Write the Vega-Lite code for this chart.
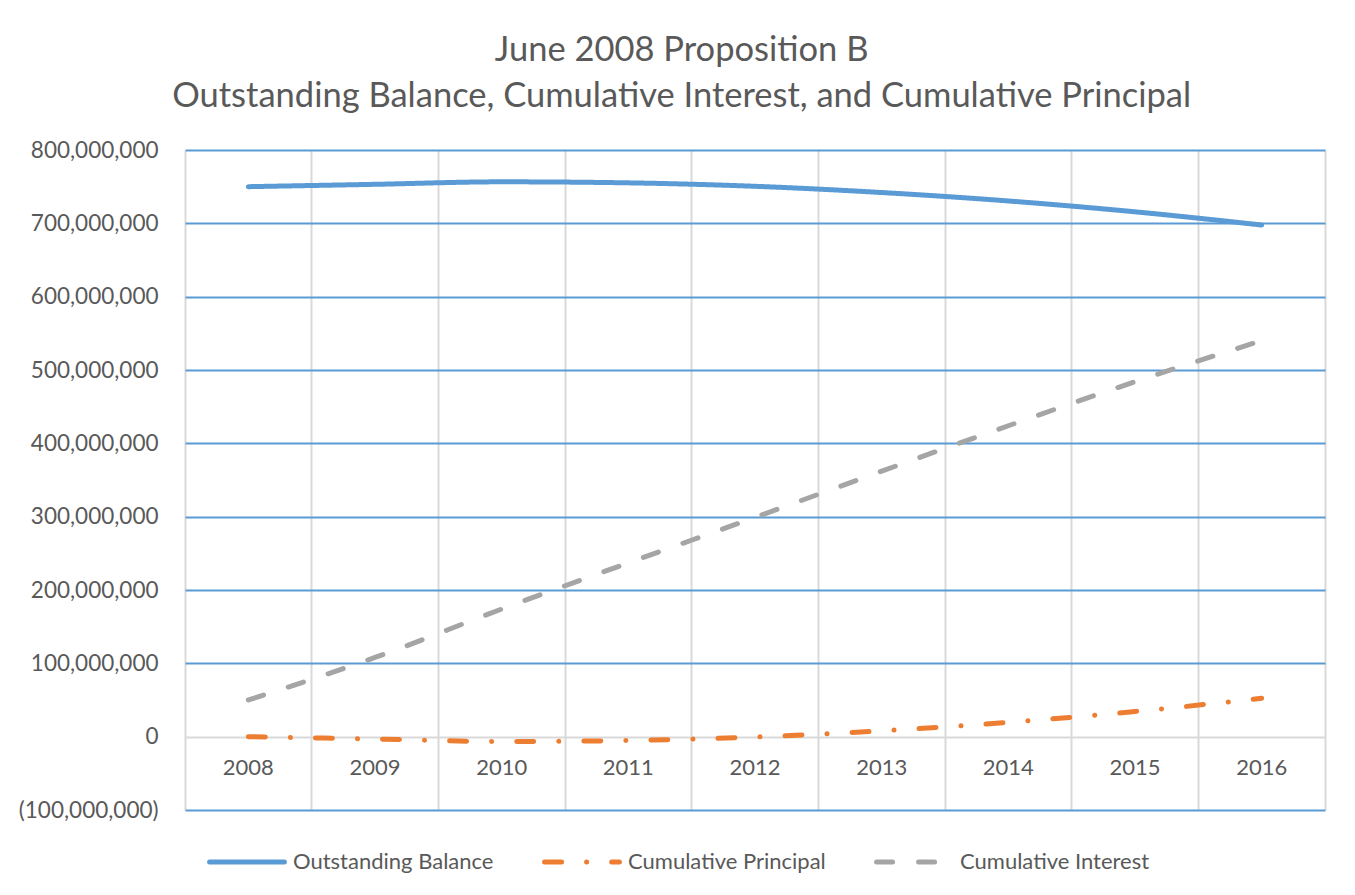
{
  "$schema": "https://vega.github.io/schema/vega-lite/v6.json",
  "autosize": {"type": "none"},
  "width": 1140,
  "height": 660,
  "padding": {"left": 185, "top": 150, "right": 30, "bottom": 85},
  "background": "white",
  "config": {"view": {"stroke": null}, "font": "Lato"},
  "title": {
    "text": ["June 2008 Proposition B", "Outstanding Balance, Cumulative Interest, and Cumulative Principal"],
    "font": "Lato",
    "fontSize": 34.5,
    "fontWeight": "normal",
    "color": "#595959",
    "anchor": "middle",
    "frame": "bounds",
    "lineHeight": 46,
    "offset": 25,
    "dx": 10
  },
  "data": {
    "values": [
      {"year": "2008", "series": "Outstanding Balance", "value": 750000000},
      {"year": "2009", "series": "Outstanding Balance", "value": 753200000},
      {"year": "2010", "series": "Outstanding Balance", "value": 756600000},
      {"year": "2011", "series": "Outstanding Balance", "value": 755200000},
      {"year": "2012", "series": "Outstanding Balance", "value": 750500000},
      {"year": "2013", "series": "Outstanding Balance", "value": 742000000},
      {"year": "2014", "series": "Outstanding Balance", "value": 730500000},
      {"year": "2015", "series": "Outstanding Balance", "value": 715700000},
      {"year": "2016", "series": "Outstanding Balance", "value": 697700000},
      {"year": "2008", "series": "Cumulative Principal", "value": 0},
      {"year": "2009", "series": "Cumulative Principal", "value": -3200000},
      {"year": "2010", "series": "Cumulative Principal", "value": -6600000},
      {"year": "2011", "series": "Cumulative Principal", "value": -5200000},
      {"year": "2012", "series": "Cumulative Principal", "value": -500000},
      {"year": "2013", "series": "Cumulative Principal", "value": 8000000},
      {"year": "2014", "series": "Cumulative Principal", "value": 19500000},
      {"year": "2015", "series": "Cumulative Principal", "value": 34300000},
      {"year": "2016", "series": "Cumulative Principal", "value": 52300000},
      {"year": "2008", "series": "Cumulative Interest", "value": 50000000},
      {"year": "2009", "series": "Cumulative Interest", "value": 108000000},
      {"year": "2010", "series": "Cumulative Interest", "value": 174000000},
      {"year": "2011", "series": "Cumulative Interest", "value": 237000000},
      {"year": "2012", "series": "Cumulative Interest", "value": 299000000},
      {"year": "2013", "series": "Cumulative Interest", "value": 362000000},
      {"year": "2014", "series": "Cumulative Interest", "value": 424000000},
      {"year": "2015", "series": "Cumulative Interest", "value": 484000000},
      {"year": "2016", "series": "Cumulative Interest", "value": 540000000}
    ]
  },
  "mark": {"type": "line", "strokeWidth": 5, "strokeCap": "round", "interpolate": "monotone"},
  "encoding": {
    "x": {
      "field": "year",
      "type": "ordinal",
      "scale": {"type": "band", "paddingInner": 0, "paddingOuter": 0},
      "bandPosition": 0.5,
      "axis": {
        "title": null,
        "domain": false,
        "ticks": false,
        "bandPosition": 1,
        "tickExtra": true,
        "grid": true,
        "gridColor": "#D9D9D9",
        "gridWidth": 2,
        "labelAngle": 0,
        "labelOffset": 0,
        "labelPadding": -53,
        "labelFontSize": 22,
        "labelColor": "#595959",
        "labelFont": "Lato"
      }
    },
    "y": {
      "field": "value",
      "type": "quantitative",
      "scale": {"domain": [-100000000, 800000000], "nice": false, "zero": false},
      "axis": {
        "title": null,
        "domain": false,
        "ticks": false,
        "grid": true,
        "values": [-100000000, 0, 100000000, 200000000, 300000000, 400000000, 500000000, 600000000, 700000000, 800000000],
        "labelExpr": "datum.value < 0 ? '(' + format(-datum.value, ',') + ')' : format(datum.value, ',')",
        "gridColor": {"condition": {"test": "datum.value === 0", "value": "#D9D9D9"}, "value": "#5B9BD5"},
        "gridWidth": 1.8,
        "labelPadding": 27,
        "labelFontSize": 22.5,
        "labelColor": "#595959",
        "labelFont": "Lato"
      }
    },
    "color": {
      "field": "series",
      "type": "nominal",
      "scale": {
        "domain": ["Outstanding Balance", "Cumulative Principal", "Cumulative Interest"],
        "range": ["#5B9BD5", "#ED7D31", "#A5A5A5"]
      },
      "legend": {
        "title": null,
        "orient": "none",
        "legendX": 22,
        "legendY": 672,
        "direction": "horizontal",
        "symbolType": "stroke",
        "symbolSize": 5600,
        "symbolStrokeWidth": 5,
        "labelFontSize": 22,
        "labelColor": "#595959",
        "labelFont": "Lato",
        "labelOffset": 6,
        "columnPadding": 40,
        "labelLimit": 400,
        "encode": {"symbols": {"update": {"strokeCap": {"value": "round"}}}}
      }
    },
    "strokeDash": {
      "field": "series",
      "type": "nominal",
      "scale": {
        "domain": ["Outstanding Balance", "Cumulative Principal", "Cumulative Interest"],
        "range": [[1, 0], [17, 25, 0.1, 25], [16, 26]]
      },
      "legend": {
        "title": null,
        "orient": "none",
        "legendX": 22,
        "legendY": 672,
        "direction": "horizontal",
        "symbolType": "stroke",
        "symbolSize": 5600,
        "symbolStrokeWidth": 5,
        "labelFontSize": 22,
        "labelColor": "#595959",
        "labelFont": "Lato",
        "labelOffset": 6,
        "columnPadding": 40,
        "labelLimit": 400,
        "encode": {"symbols": {"update": {"strokeCap": {"value": "round"}}}}
      }
    }
  }
}
